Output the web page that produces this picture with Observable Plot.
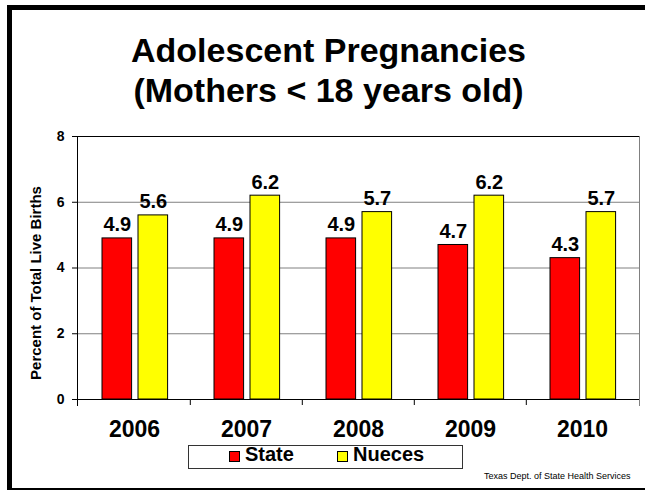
<!DOCTYPE html>
<html>
<head>
<meta charset="utf-8">
<script src="https://cdn.jsdelivr.net/npm/d3@7"></script>
<script src="https://cdn.jsdelivr.net/npm/@observablehq/plot@0.6"></script>
<style>
  html, body { margin: 0; padding: 0; background: #fff; }
  body { font-family: Arial, "Liberation Sans", sans-serif; }
  #wrap { position: relative; width: 645px; height: 491px; overflow: hidden; background: #fff; }
  #chart { position: absolute; left: 0; top: 0; }
  #frame { position: absolute; left: 7px; top: 5px; width: 700px; height: 478px;
           border-left: 5px solid #000; border-top: 5px solid #000; border-bottom: 2px solid #000; }
  .title { position: absolute; left: 12px; width: 633px; text-align: center; font-weight: bold;
           font-size: 34px; line-height: 40px; color: #000; white-space: nowrap; }
  #legend { position: absolute; left: 188px; top: 445px; width: 275px; height: 24px;
            border: 1px solid #333; box-sizing: border-box; }
  .sw { position: absolute; width: 11px; height: 11px; border: 1px solid #000; box-sizing: border-box; top: 451px; }
  .lt { position: absolute; font-weight: bold; font-size: 20px; line-height: 22px; top: 443px; color: #000; white-space: nowrap; }
  #source { position: absolute; left: 484px; top: 471px; font-size: 9px; line-height: 10px; color: #000; white-space: nowrap; }
</style>
</head>
<body>
<div id="wrap">
  <div id="frame"></div>
  <div id="chart"></div>
  <div class="title" id="t1" style="top:30px"></div>
  <div class="title" id="t2" style="top:70px"></div>
  <div id="legend"></div>
  <div class="sw" id="sw0" style="left:229px"></div>
  <div class="lt" id="lt0" style="left:245px"></div>
  <div class="sw" id="sw1" style="left:337px"></div>
  <div class="lt" id="lt1" style="left:353px"></div>
  <div id="source"></div>
</div>
<script>
// ---- data ----
const years = ["2006", "2007", "2008", "2009", "2010"];
const stateValues = [4.9, 4.9, 4.9, 4.7, 4.3];
const nuecesValues = [5.6, 6.2, 5.7, 6.2, 5.7];
const seriesNames = ["State", "Nueces"];
const seriesColors = ["#FF0000", "#FFFF00"];
const yTicks = [0, 2, 4, 6, 8];
const gridTicks = [2, 4, 6];
const titleLines = ["Adolescent Pregnancies", "(Mothers < 18 years old)"];
const yLabel = "Percent of Total Live Births";
const sourceText = "Texas Dept. of State Health Services";

// ---- layout ----
const W = 645, H = 491, mL = 77, mR = 6, mT = 136, mB = 92;
const bw = (W - mL - mR) / years.length;

const state = years.map((year, i) => ({year, value: stateValues[i]}));
const nueces = years.map((year, i) => ({year, value: nuecesValues[i]}));

const font = "Arial, 'Liberation Sans', sans-serif";
const labelOpts = {x: "year", y: "value", text: d => d.value.toFixed(1), dy: -7, lineAnchor: "bottom",
                   fontSize: 20, fontWeight: "bold", fill: "#000", fontFamily: font};

const chart = Plot.plot({
  width: W, height: H,
  marginLeft: mL, marginRight: mR, marginTop: mT, marginBottom: mB,
  style: {fontFamily: font, background: "transparent", color: "#000", overflow: "visible"},
  x: {domain: years, padding: 0, label: null},
  y: {domain: [0, 8], label: null},
  marks: [
    Plot.ruleY(gridTicks, {stroke: "#808080", strokeWidth: 1}),
    Plot.barY(state, {x: "year", y: "value", fill: seriesColors[0], stroke: "#000", strokeWidth: 1,
                      insetLeft: 24, insetRight: bw - 54}),
    Plot.barY(nueces, {x: "year", y: "value", fill: seriesColors[1], stroke: "#000", strokeWidth: 1,
                       insetLeft: 60, insetRight: bw - 90}),
    Plot.text(state, {...labelOpts, dx: 39 - bw / 2}),
    Plot.text(nueces, {...labelOpts, dx: 75 - bw / 2}),
    Plot.frame({anchor: "right", stroke: "#808080", insetBottom: -6}),
    Plot.ruleY([8], {stroke: "#000"}),
    Plot.ruleY([0], {stroke: "#000"}),
    Plot.frame({anchor: "left", stroke: "#000", insetBottom: -6}),
    Plot.ruleX(years.slice(1), {x: d => d, y1: 0, y2: 0, insetBottom: -6, dx: -bw / 2, stroke: "#000"}),
    Plot.axisY({ticks: yTicks, tickSize: 5, tickPadding: 8, fontSize: 14, fontWeight: "bold", label: null}),
    Plot.axisX({tickSize: 0, tickPadding: 21, fontSize: 23, fontWeight: "bold", label: null}),
    Plot.text([yLabel], {text: d => d, frameAnchor: "left", rotate: -90, textAnchor: "middle", lineAnchor: "bottom",
                         dx: -37, dy: 15, fontSize: 15, fontWeight: "bold", fill: "#000"})
  ]
});
document.getElementById("chart").appendChild(chart);

document.getElementById("t1").textContent = titleLines[0];
document.getElementById("t2").textContent = titleLines[1];
document.getElementById("sw0").style.background = seriesColors[0];
document.getElementById("sw1").style.background = seriesColors[1];
document.getElementById("lt0").textContent = seriesNames[0];
document.getElementById("lt1").textContent = seriesNames[1];
document.getElementById("source").textContent = sourceText;
</script>
</body>
</html>
